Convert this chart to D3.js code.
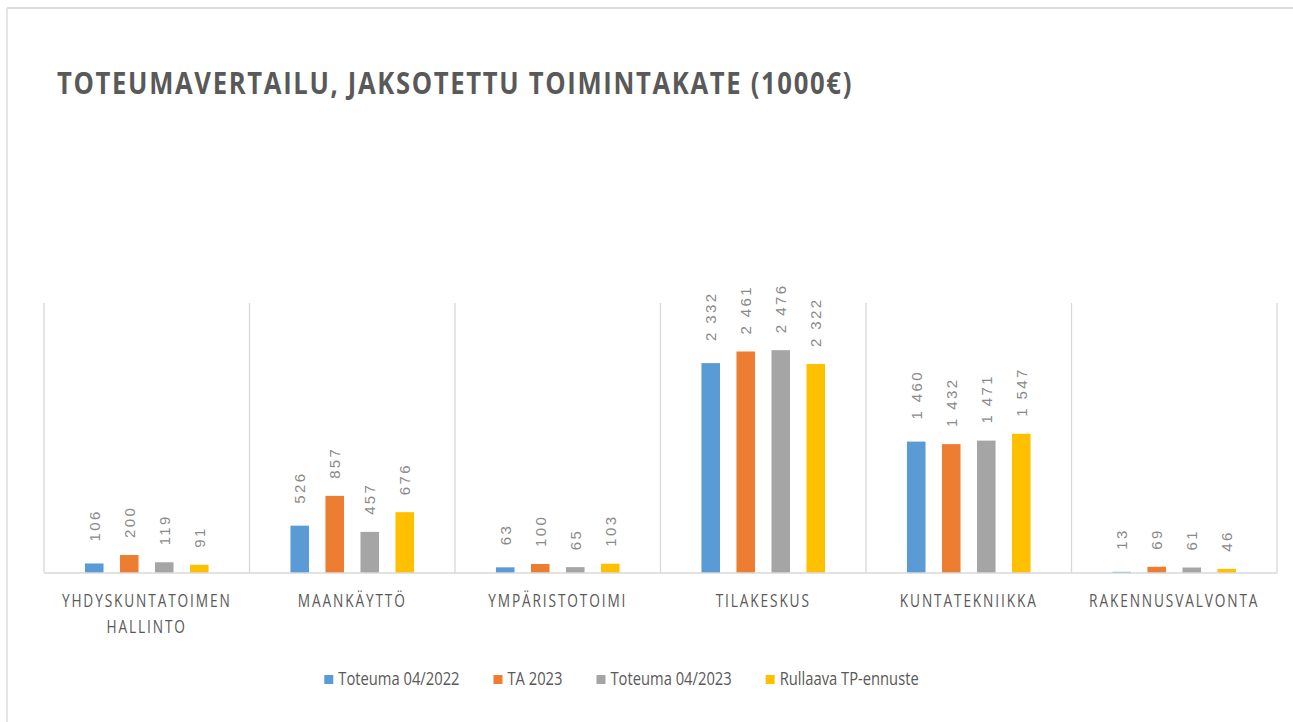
<!DOCTYPE html>
<html>
<head>
<meta charset="utf-8">
<script src="https://cdn.jsdelivr.net/npm/d3@7"></script>
<style>
  html, body { margin: 0; padding: 0; background: #fff; }
  svg { display: block; }
</style>
</head>
<body>
<svg id="chart" width="1293" height="722"></svg>
<script>
// ---- DATA ----
const title = "TOTEUMAVERTAILU, JAKSOTETTU TOIMINTAKATE (1000€)";
const categories = ["YHDYSKUNTATOIMEN\nHALLINTO", "MAANKÄYTTÖ", "YMPÄRISTOTOIMI", "TILAKESKUS", "KUNTATEKNIIKKA", "RAKENNUSVALVONTA"];
const seriesNames = ["Toteuma 04/2022", "TA 2023", "Toteuma 04/2023", "Rullaava TP-ennuste"];
const toteuma2022 = [106, 526, 63, 2332, 1460, 13];
const ta2023 = [200, 857, 100, 2461, 1432, 69];
const toteuma2023 = [119, 457, 65, 2476, 1471, 61];
const tpEnnuste = [91, 676, 103, 2322, 1547, 46];
const seriesValues = [toteuma2022, ta2023, toteuma2023, tpEnnuste];
const seriesColors = ["#5B9BD5", "#ED7D31", "#A5A5A5", "#FFC000"];
const yDomain = [0, 3000];

// ---- LAYOUT ----
const svg = d3.select("#chart");
const W = 1293, H = 722;
const plot = { left: 44, right: 1277, top: 303, bottom: 573 };
const gridColor = "#d9d9d9";
const narrowFont = "'Open Sans', sans-serif";

svg.append("rect").attr("width", W).attr("height", H).attr("fill", "#fff");
// outer frame
svg.append("line").attr("x1", 7).attr("x2", W).attr("y1", 8).attr("y2", 8)
  .attr("stroke", "#dcdcdc").attr("stroke-width", 2);
svg.append("line").attr("x1", 7).attr("x2", 7).attr("y1", 8).attr("y2", H)
  .attr("stroke", "#dcdcdc").attr("stroke-width", 1.5);

// title
svg.append("text")
  .attr("x", 57).attr("y", 94)
  .attr("textLength", 796).attr("lengthAdjust", "spacingAndGlyphs")
  .style("font-family", narrowFont)
  .style("font-weight", "bold")
  .style("font-size", "31px")
  .style("letter-spacing", "2px")
  .attr("fill", "#595959")
  .text(title);

const x0 = d3.scaleBand().domain(categories).range([plot.left, plot.right]).padding(0);
const x1 = d3.scaleBand().domain(d3.range(seriesNames.length))
  .range([0, x0.bandwidth()]).paddingInner(0.47).paddingOuter(1.17);
const y = d3.scaleLinear().domain(yDomain).range([plot.bottom, plot.top]);

// vertical category separators
const edges = categories.map(c => x0(c)).concat([plot.right]);
svg.append("g").selectAll("line").data(edges).join("line")
  .attr("x1", d => d).attr("x2", d => d)
  .attr("y1", plot.top).attr("y2", plot.bottom)
  .attr("stroke", gridColor).attr("stroke-width", 1.3);

// bars
const fmt = d3.formatLocale({ decimal: ",", thousands: " ", grouping: [3], currency: ["", "€"] }).format(",d");
const groups = svg.append("g").selectAll("g").data(categories).join("g")
  .attr("transform", c => `translate(${x0(c)},0)`);

groups.selectAll("rect")
  .data((c, ci) => seriesValues.map((vals, si) => ({ si, v: vals[ci] })))
  .join("rect")
  .attr("x", d => x1(d.si))
  .attr("width", x1.bandwidth())
  .attr("y", d => y(d.v))
  .attr("height", d => y(0) - y(d.v))
  .attr("fill", d => seriesColors[d.si]);

groups.selectAll("text.val")
  .data((c, ci) => seriesValues.map((vals, si) => ({ si, v: vals[ci] })))
  .join("text")
  .attr("class", "val")
  .attr("transform", d => `translate(${x1(d.si) + x1.bandwidth() / 2 + 5.5},${y(d.v) - (d.si === 0 ? 22 : 17)}) rotate(-90)`)
  .style("font-family", "'Liberation Sans', Arial, sans-serif")
  .style("font-size", "15px")
  .style("letter-spacing", "2.4px")
  .attr("fill", "#8a8a8a")
  .text(d => fmt(d.v));

// baseline axis
svg.append("line").attr("x1", plot.left).attr("x2", plot.right)
  .attr("y1", plot.bottom).attr("y2", plot.bottom)
  .attr("stroke", gridColor).attr("stroke-width", 1.5);

// category labels via axis
const xAxis = d3.axisBottom(x0).tickSize(0).tickFormat("");
const axisG = svg.append("g").attr("transform", `translate(0,${plot.bottom})`).call(xAxis);
axisG.select(".domain").remove();
axisG.selectAll(".tick").each(function (c) {
  const t = d3.select(this).append("text")
    .attr("text-anchor", "middle")
    .attr("transform", "scale(0.72,1)")
    .style("font-family", narrowFont)
    .style("font-size", "19px")
    .style("letter-spacing", "2.6px")
    .attr("fill", "#595959");
  c.split("\n").forEach((line, i) => {
    t.append("tspan").attr("x", 0).attr("y", 34 + i * 26).text(line);
  });
});

// legend
const legend = svg.append("g");
const items = legend.selectAll("g").data(seriesNames).join("g");
items.append("rect").attr("width", 9).attr("height", 9).attr("y", -10)
  .attr("fill", (d, i) => seriesColors[i]);
items.append("text").attr("x", 14 / 0.82).attr("y", 0)
  .attr("transform", "scale(0.82,1)")
  .style("font-family", narrowFont)
  .style("font-size", "18px")
  .attr("fill", "#595959")
  .text(d => d);
const widths = [];
items.each(function () { widths.push(this.getBBox().width); });
const gap = 34;
const total = d3.sum(widths) + gap * (widths.length - 1);
let start = 621.5 - total / 2;
items.attr("transform", (d, i) => {
  const tx = start;
  start += widths[i] + gap;
  return `translate(${tx},${685})`;
});
</script>
</body>
</html>
